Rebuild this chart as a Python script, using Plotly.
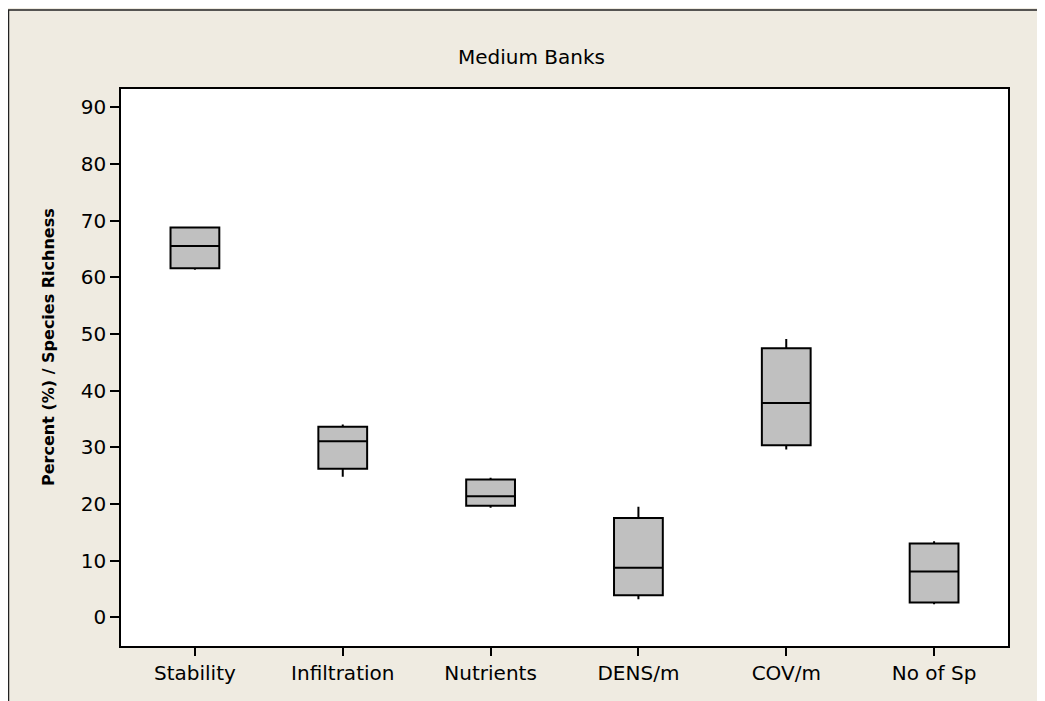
import plotly.graph_objects as go

categories = ["Stability", "Infiltration", "Nutrients", "DENS/m", "COV/m", "No of Sp"]
lower_fence = [61.3, 24.8, 19.35, 3.2, 29.6, 2.3]
q1 = [61.6, 26.2, 19.7, 3.9, 30.35, 2.6]
median = [65.5, 31.05, 21.35, 8.75, 37.8, 8.1]
q3 = [68.75, 33.6, 24.3, 17.5, 47.45, 13.0]
upper_fence = [68.9, 34.0, 24.6, 19.5, 49.1, 13.4]
y_ticks = [0, 10, 20, 30, 40, 50, 60, 70, 80, 90]

OFF = 8  # page body margin
W, H = 1045 - OFF, 701 - OFF
L, R, T, B = 121 - OFF, 37, 89 - OFF, 55
pw, ph = W - L - R, H - T - B

def px_x(x):
    return (x - OFF - L) / pw

def px_y(y):
    return (H - B - (y - OFF)) / ph

fig = go.Figure()
fig.add_trace(go.Box(
    x=categories, q1=q1, median=median, q3=q3,
    lowerfence=lower_fence, upperfence=upper_fence,
    fillcolor="#C0C0C0", line=dict(color="black", width=2),
    width=0.33, whiskerwidth=0, boxpoints=False, hoverinfo="skip",
    showlegend=False,
))

bg = "#EFEBE1"
font_family = "DejaVu Sans"
fig.update_layout(
    width=W, height=H,
    margin=dict(l=L, r=R, t=T, b=B),
    paper_bgcolor=bg, plot_bgcolor="white",
    font=dict(family=font_family, color="black", size=20),
    xaxis=dict(
        range=[-0.5, 5.5], showgrid=False, zeroline=False,
        showline=True, linecolor="black", linewidth=1.5, mirror=True,
        ticks="outside", ticklen=8, tickwidth=1.5, tickcolor="black",
        tickfont=dict(size=20), fixedrange=True,
    ),
    yaxis=dict(
        range=[-5.06, 93.2], showgrid=False, zeroline=False,
        showline=True, linecolor="black", linewidth=1.5, mirror=True,
        ticks="outside", ticklen=9, tickwidth=1.5, tickcolor="black",
        tickvals=y_ticks, tickfont=dict(size=20), fixedrange=True,
    ),
    shapes=[
        dict(type="line", xref="paper", yref="paper",
             x0=px_x(8), y0=px_y(10), x1=px_x(1050), y1=px_y(10),
             line=dict(color="#222222", width=1.5)),
        dict(type="line", xref="paper", yref="paper",
             x0=px_x(8.5), y0=px_y(10), x1=px_x(8.5), y1=px_y(710),
             line=dict(color="#222222", width=1.5)),
    ],
    annotations=[
        dict(text="Medium Banks", xref="paper", yref="paper",
             x=px_x(531), y=px_y(57), xanchor="center", yanchor="middle",
             showarrow=False, font=dict(size=20)),
        dict(text="<b>Percent (%) / Species Richness</b>", xref="paper", yref="paper",
             x=px_x(48), y=px_y(347), xanchor="center", yanchor="middle",
             textangle=-90, showarrow=False, font=dict(size=16)),
    ],
)

fig.write_html("out.html")
